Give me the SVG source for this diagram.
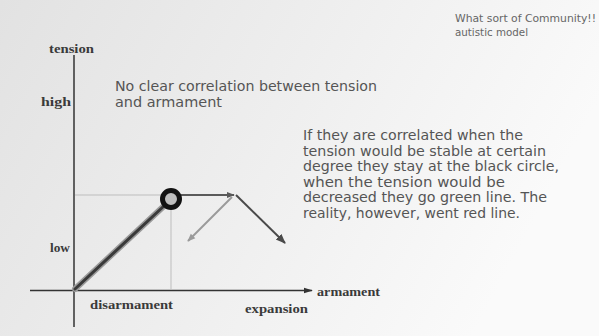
<svg xmlns="http://www.w3.org/2000/svg" width="599" height="336" viewBox="0 0 599 336">
<defs>
  <linearGradient id="bg" x1="0" y1="0" x2="1" y2="0.3">
    <stop offset="0" stop-color="#e2e2e2"/>
    <stop offset="0.55" stop-color="#efefef"/>
    <stop offset="1" stop-color="#fafafa"/>
  </linearGradient>
  <marker id="ahDark" viewBox="0 0 10 10" refX="9" refY="5" markerWidth="5" markerHeight="5" orient="auto">
    <path d="M0,1 L10,5 L0,9 z" fill="#4a4a4a"/>
  </marker>
  <marker id="ahMid" viewBox="0 0 10 10" refX="9" refY="5" markerWidth="4" markerHeight="4" orient="auto">
    <path d="M0,1 L10,5 L0,9 z" fill="#5a5a5a"/>
  </marker>
  <marker id="ahLight" viewBox="0 0 10 10" refX="9" refY="5" markerWidth="4" markerHeight="4" orient="auto">
    <path d="M0,1 L10,5 L0,9 z" fill="#9a9a9a"/>
  </marker>
  <marker id="ahAxis" viewBox="0 0 10 10" refX="9" refY="5" markerWidth="6" markerHeight="6" orient="auto">
    <path d="M0,2 L10,5 L0,8 z" fill="#333"/>
  </marker>
</defs>
<style>
  .lbl { font-family: "Liberation Serif", "DejaVu Serif", serif; font-weight: bold; font-size: 13px; fill: #3a3a3a; }
  .txt { font-family: "DejaVu Sans", "Liberation Sans", sans-serif; font-size: 13.5px; fill: #555; }
  .small { font-family: "DejaVu Sans", "Liberation Sans", sans-serif; font-size: 10px; fill: #666; }
  .axis { stroke: #333; stroke-width: 1.5; fill: none; }
  .guide { stroke: #bdbdbd; stroke-width: 1; fill: none; }
</style>
<rect x="0" y="0" width="599" height="336" fill="url(#bg)"/>

<g id="title-note">
  <text class="small" x="455" y="22" textLength="141" lengthAdjust="spacingAndGlyphs">What sort of Community!!</text>
  <text class="small" x="455" y="36" textLength="73" lengthAdjust="spacingAndGlyphs">autistic model</text>
</g>

<g id="heading">
  <text class="txt" x="115" y="91" textLength="262" lengthAdjust="spacingAndGlyphs">No clear correlation between tension</text>
  <text class="txt" x="115" y="107" textLength="107" lengthAdjust="spacingAndGlyphs">and armament</text>
</g>

<g id="explanation">
  <text class="txt" x="303" y="140" textLength="220" lengthAdjust="spacingAndGlyphs">If they are correlated when the</text>
  <text class="txt" x="303" y="155.5" textLength="243" lengthAdjust="spacingAndGlyphs">tension would be stable at certain</text>
  <text class="txt" x="303" y="171" textLength="256" lengthAdjust="spacingAndGlyphs">degree they stay at the black circle,</text>
  <text class="txt" x="303" y="186.5" textLength="202" lengthAdjust="spacingAndGlyphs">when the tension would be</text>
  <text class="txt" x="303" y="202" textLength="244" lengthAdjust="spacingAndGlyphs">decreased they go green line. The</text>
  <text class="txt" x="303" y="217.5" textLength="217" lengthAdjust="spacingAndGlyphs">reality, however, went red line.</text>
</g>

<g id="axes">
  <line class="axis" x1="74" y1="55" x2="74" y2="327"/>
  <line class="axis" x1="30" y1="290.5" x2="312" y2="290.5" marker-end="url(#ahAxis)"/>
  <text class="lbl" x="49" y="53" textLength="45" lengthAdjust="spacingAndGlyphs">tension</text>
  <text class="lbl" x="41" y="106" textLength="30" lengthAdjust="spacingAndGlyphs">high</text>
  <text class="lbl" x="50" y="252" textLength="20" lengthAdjust="spacingAndGlyphs">low</text>
  <text class="lbl" x="90" y="309" textLength="83" lengthAdjust="spacingAndGlyphs">disarmament</text>
  <text class="lbl" x="245" y="313" textLength="63" lengthAdjust="spacingAndGlyphs">expansion</text>
  <text class="lbl" x="317" y="296" textLength="63" lengthAdjust="spacingAndGlyphs">armament</text>
</g>

<g id="connectors">
  <line class="guide" x1="75" y1="195" x2="165" y2="195"/>
  <line class="guide" x1="171" y1="208" x2="171" y2="290"/>
  <line x1="75" y1="289" x2="165" y2="205" stroke="#9a9a9a" stroke-width="6" stroke-linecap="round"/>
  <line x1="75" y1="289" x2="165" y2="205" stroke="#3a3a3a" stroke-width="3" stroke-linecap="round"/>
  <line x1="181" y1="195" x2="234" y2="195" stroke="#5a5a5a" stroke-width="2" marker-end="url(#ahMid)"/>
  <line x1="236" y1="195" x2="285" y2="243" stroke="#4a4a4a" stroke-width="2" marker-end="url(#ahDark)"/>
  <line x1="232" y1="197" x2="188" y2="241" stroke="#9a9a9a" stroke-width="2" marker-end="url(#ahLight)"/>
</g>

<g id="black-circle">
  <circle cx="171" cy="199" r="8.5" fill="#bdbdbd" stroke="#111" stroke-width="5"/>
</g>
</svg>
